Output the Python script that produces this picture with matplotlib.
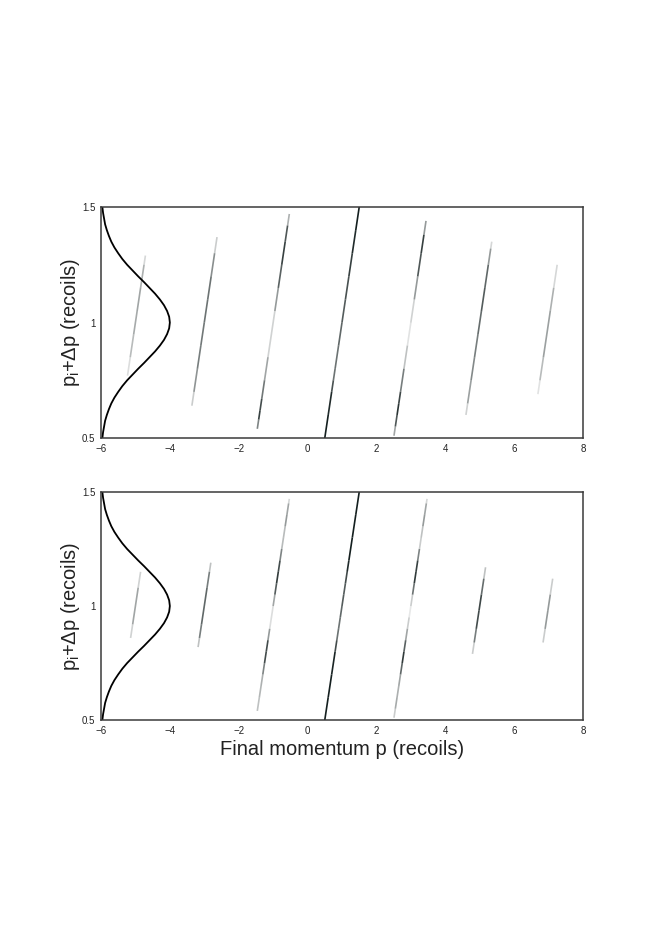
import numpy as np
import matplotlib
matplotlib.use("Agg")
import matplotlib.pyplot as plt
from matplotlib.collections import LineCollection

plt.rcParams["font.family"] = ["Liberation Sans", "DejaVu Sans"]
plt.rcParams["mathtext.fontset"] = "custom"
plt.rcParams["mathtext.rm"] = "Liberation Sans"

# initial momentum distribution, drawn on the left edge (x = -6 + amplitude)
DIST_Y = [0.5, 0.525, 0.55, 0.575, 0.6, 0.625, 0.65, 0.675, 0.7, 0.725, 0.75,
          0.775, 0.8, 0.825, 0.85, 0.875, 0.9, 0.925, 0.95, 0.975, 1.0,
          1.025, 1.05, 1.075, 1.1, 1.125, 1.15, 1.175, 1.2, 1.225, 1.25,
          1.275, 1.3, 1.325, 1.35, 1.375, 1.4, 1.425, 1.45, 1.475, 1.5]
DIST_X = [-5.96, -5.94, -5.91, -5.88, -5.83, -5.77, -5.70, -5.61, -5.50, -5.38, -5.24,
          -5.08, -4.92, -4.75, -4.59, -4.43, -4.29, -4.17, -4.08, -4.02, -4.00,
          -4.02, -4.08, -4.17, -4.29, -4.43, -4.59, -4.75, -4.92, -5.08, -5.24,
          -5.38, -5.50, -5.61, -5.70, -5.77, -5.83, -5.88, -5.91, -5.94, -5.96]

# diffraction orders: final p = p_i + dp + offset
OFFSETS = [-6, -4, -2, 0, 2, 4, 6]

TOP_Y = [
    [0.77, 0.85, 0.95, 1.05, 1.15, 1.25, 1.29],
    [0.64, 0.7, 0.8, 0.9, 1.0, 1.1, 1.2, 1.3, 1.37],
    [0.54, 0.58, 0.62, 0.67, 0.75, 0.85, 0.95, 1.05, 1.15, 1.25, 1.35, 1.42, 1.47],
    [0.5, 0.6, 0.7, 0.75, 0.8, 0.9, 1.0, 1.1, 1.2, 1.3, 1.4, 1.5],
    [0.51, 0.55, 0.6, 0.65, 0.7, 0.8, 0.9, 1.0, 1.1, 1.2, 1.3, 1.38, 1.44],
    [0.6, 0.65, 0.75, 0.85, 0.95, 1.05, 1.15, 1.25, 1.32, 1.35],
    [0.69, 0.75, 0.85, 0.95, 1.05, 1.15, 1.25],
]
TOP_I = [
    [0.05, 0.25, 0.35, 0.4, 0.4, 0.3, 0.05],
    [0.05, 0.4, 0.55, 0.6, 0.6, 0.65, 0.6, 0.4, 0.05],
    [0.3, 0.8, 0.9, 0.7, 0.5, 0.3, 0.1, 0.3, 0.6, 0.8, 0.9, 0.6, 0.1],
    [1.0, 1.0, 0.9, 0.65, 0.6, 0.65, 0.7, 0.75, 0.8, 0.9, 1.0, 1.0],
    [0.2, 0.6, 0.9, 0.9, 0.75, 0.4, 0.15, 0.1, 0.3, 0.6, 0.9, 0.8, 0.1],
    [0.05, 0.35, 0.5, 0.55, 0.6, 0.7, 0.75, 0.6, 0.3, 0.05],
    [0.05, 0.2, 0.4, 0.45, 0.4, 0.3, 0.05],
]

BOT_Y = [
    [0.86, 0.92, 1.0, 1.08, 1.15],
    [0.82, 0.86, 0.92, 1.0, 1.08, 1.15, 1.19],
    [0.54, 0.6, 0.65, 0.7, 0.75, 0.8, 0.85, 0.9, 0.95, 1.0, 1.05, 1.1, 1.15,
     1.2, 1.25, 1.3, 1.35, 1.4, 1.45, 1.47],
    [0.5, 0.6, 0.7, 0.8, 0.85, 0.9, 0.95, 1.0, 1.05, 1.1, 1.15, 1.2, 1.3, 1.4, 1.5],
    [0.51, 0.55, 0.6, 0.65, 0.7, 0.75, 0.8, 0.85, 0.9, 0.95, 1.0, 1.05, 1.1,
     1.15, 1.2, 1.25, 1.3, 1.35, 1.4, 1.45, 1.47],
    [0.79, 0.84, 0.9, 0.98, 1.05, 1.12, 1.17],
    [0.84, 0.9, 0.98, 1.05, 1.12],
]
BOT_I = [
    [0.05, 0.35, 0.45, 0.35, 0.05],
    [0.05, 0.5, 0.65, 0.7, 0.65, 0.5, 0.05],
    [0.2, 0.35, 0.3, 0.4, 0.7, 0.9, 0.7, 0.2, 0.1, 0.2, 0.6, 0.85, 0.9, 0.7,
     0.4, 0.2, 0.4, 0.5, 0.3, 0.05],
    [1.0, 1.0, 1.0, 0.95, 0.65, 0.6, 0.65, 0.7, 0.75, 0.7, 0.9, 1.0, 1.0, 1.0, 1.0],
    [0.1, 0.35, 0.4, 0.3, 0.5, 0.85, 0.9, 0.5, 0.3, 0.15, 0.05, 0.4, 0.85,
     0.9, 0.8, 0.3, 0.15, 0.4, 0.5, 0.3, 0.05],
    [0.05, 0.4, 0.75, 0.85, 0.8, 0.5, 0.05],
    [0.05, 0.4, 0.5, 0.4, 0.05],
]

X_TICKS = [-6, -4, -2, 0, 2, 4, 6, 8]
Y_TICKS = [0.5, 1, 1.5]
Y_TICK_LABELS = ["0.5", "1", "1.5"]

STREAK_RGB = (0.08, 0.12, 0.12)


def draw_streaks(ax, ys, intens):
    for off, y, w in zip(OFFSETS, ys, intens):
        y = np.asarray(y)
        w = np.asarray(w)
        x = y + off
        pts = np.column_stack([x, y])
        segs = np.stack([pts[:-1], pts[1:]], axis=1)
        alpha = 0.5 * (w[:-1] + w[1:])
        colors = [(*STREAK_RGB, a) for a in alpha]
        ax.add_collection(LineCollection(segs, colors=colors, linewidths=1.2,
                                         capstyle="butt"))


def style_axes(ax):
    ax.set_xlim(-6, 8)
    ax.set_ylim(0.5, 1.5)
    ax.set_xticks(X_TICKS)
    ax.set_xticklabels([str(t).replace("-", "\u2212") for t in X_TICKS])
    ax.set_yticks(Y_TICKS)
    ax.set_yticklabels(Y_TICK_LABELS)
    ax.tick_params(length=0, labelsize=7, colors="#222222", pad=4)
    for s in ax.spines.values():
        s.set_color("#3a3a3a")
        s.set_linewidth(1.1)
    ax.set_ylabel(r"p$_\mathregular{i}$+Δp (recoils)", fontsize=14.5,
                  color="#222222", labelpad=0)


fig = plt.figure(figsize=(6.64, 9.39), dpi=100)
ax_top = fig.add_axes([0.1521, 0.5335, 0.7259, 0.2460])
ax_bot = fig.add_axes([0.1521, 0.2332, 0.7259, 0.2428])

for ax, ys, intens in [(ax_top, TOP_Y, TOP_I), (ax_bot, BOT_Y, BOT_I)]:
    draw_streaks(ax, ys, intens)
    ax.plot(DIST_X, DIST_Y, color="black", lw=1.3)
    style_axes(ax)

ax_bot.set_xlabel("Final momentum p (recoils)", fontsize=14.5, color="#222222",
                  labelpad=3)

fig.savefig("out.png", dpi=100)
